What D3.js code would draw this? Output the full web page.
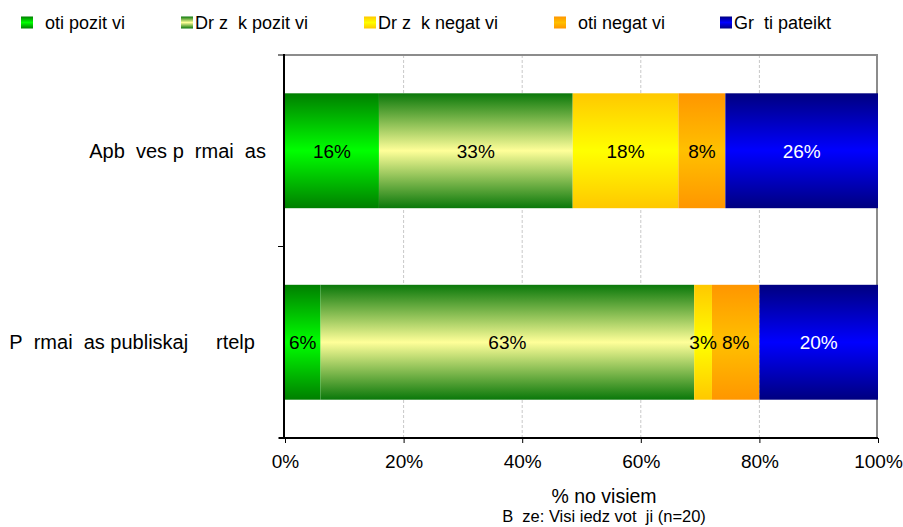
<!DOCTYPE html>
<html>
<head>
<meta charset="utf-8">
<script src="https://cdn.jsdelivr.net/npm/d3@7"></script>
<style>
  body { margin: 0; background: #fff; }
  svg { display: block; font-family: "Liberation Sans", Arial, sans-serif; }
</style>
</head>
<body>
<svg id="chart" width="903" height="527"></svg>
<script>
// ---- data ---- (\u00a0 runs mark glyphs that the original could not render)
const categories = ["Apb\u00a0\u00a0ves p\u00a0\u00a0rmai\u00a0\u00a0as",
                    "P\u00a0\u00a0rmai\u00a0\u00a0as publiskaj\u00a0\u00a0 \u00a0\u00a0rtelp\u00a0\u00a0"];
const seriesNames = ["\u00a0\u00a0oti pozit\u00a0vi", "Dr\u00a0z\u00a0\u00a0k pozit\u00a0vi",
                     "Dr\u00a0z\u00a0\u00a0k negat\u00a0vi", "\u00a0\u00a0oti negat\u00a0vi",
                     "Gr\u00a0\u00a0ti pateikt"];
const seriesKeys = ["s1", "s2", "s3", "s4", "s5"];
const values1 = [16, 33, 18, 8, 26];   // Apbūves pārmaiņas
const values2 = [6, 63, 3, 8, 20];     // Pārmaiņas publiskajā ārtelpā
const tickValues = [0, 0.2, 0.4, 0.6, 0.8, 1.0];
const axisTitle = "% no visiem";
const footnote = "B\u00a0\u00a0ze: Visi iedz\u00a0vot\u00a0\u00a0ji (n=20)";

// gradient colours (edge, middle)
const gradEdge = ["#007f00", "#0a780a", "#ffc800", "#ff9600", "#000080"];
const gradMid  = ["#00ff00", "#ffff99", "#ffff00", "#ffc000", "#0000ff"];
const labelColor = ["#000", "#000", "#000", "#000", "#fff"];

const rows = [values1, values2].map((v, i) => {
  const o = { cat: categories[i] };
  seriesKeys.forEach((k, j) => o[k] = v[j]);
  return o;
});

const svg = d3.select("#chart");
const defs = svg.append("defs");
seriesKeys.forEach((k, i) => {
  const g = defs.append("linearGradient").attr("id", "g" + i)
    .attr("x1", 0).attr("y1", 0).attr("x2", 0).attr("y2", 1);
  g.append("stop").attr("offset", "0%").attr("stop-color", gradEdge[i]);
  g.append("stop").attr("offset", "50%").attr("stop-color", gradMid[i]);
  g.append("stop").attr("offset", "100%").attr("stop-color", gradEdge[i]);
});

const pLeft = 285, pRight = 878, pTop = 55, pBottom = 438;
const x = d3.scaleLinear().domain([0, 1]).range([pLeft, pRight]);
const y = d3.scaleBand().domain(categories).range([pTop, pBottom])
  .paddingInner(0.4).paddingOuter(0.2);

const stack = d3.stack().keys(seriesKeys).offset(d3.stackOffsetExpand);
const stacked = stack(rows);

// gridlines
svg.append("g").selectAll("line").data(tickValues.slice(1, -1)).join("line")
  .attr("x1", d => x(d)).attr("x2", d => x(d))
  .attr("y1", pTop).attr("y2", pBottom)
  .attr("stroke", "#c8c8c8").attr("stroke-dasharray", "3,2");

// plot border (top/right)
svg.append("path")
  .attr("d", `M${pLeft},${pTop}H${x(1) - 1}V${pBottom}`)
  .attr("fill", "none").attr("stroke", "#8c8c8c").attr("stroke-width", 2);

// bars
const layers = svg.append("g").selectAll("g").data(stacked).join("g")
  .attr("fill", (d, i) => `url(#g${i})`);
layers.selectAll("rect").data(d => d).join("rect")
  .attr("x", d => x(d[0])).attr("width", d => x(d[1]) - x(d[0]))
  .attr("y", d => y(d.data.cat)).attr("height", y.bandwidth());

// bar labels
stacked.forEach((layer, i) => {
  svg.append("g").selectAll("text").data(layer).join("text")
    .attr("x", d => (x(d[0]) + x(d[1])) / 2)
    .attr("y", d => y(d.data.cat) + y.bandwidth() / 2 + 7)
    .attr("text-anchor", "middle")
    .attr("font-size", 19)
    .attr("fill", labelColor[i])
    .text(d => d.data[seriesKeys[i]] + "%");
});

// x axis
const xAxis = d3.axisBottom(x).tickValues(tickValues)
  .tickFormat(d3.format(".0%")).tickSize(5).tickPadding(12);
const gx = svg.append("g").attr("transform", `translate(0,${pBottom})`).call(xAxis);
gx.select(".domain").attr("stroke", "#000").attr("stroke-width", 2)
  .attr("d", `M${pLeft - 6},0H${x(1)}`);
gx.selectAll(".tick line").attr("stroke", "#000");
gx.selectAll(".tick text").attr("font-size", 19)
  .attr("font-family", "Liberation Sans, Arial, sans-serif").attr("fill", "#000")
  .attr("dy", "0.68em");

// y axis line and ticks at band boundaries
const bounds = [pTop, (y(categories[0]) + y.bandwidth() + y(categories[1])) / 2, pBottom];
svg.append("line").attr("x1", pLeft - 1).attr("x2", pLeft - 1)
  .attr("y1", pTop - 1).attr("y2", pBottom + 1)
  .attr("stroke", "#000").attr("stroke-width", 2);
svg.append("g").selectAll("line").data(bounds).join("line")
  .attr("x1", pLeft - 7).attr("x2", pLeft).attr("y1", d => d).attr("y2", d => d)
  .attr("stroke", "#000");

// category labels
svg.append("g").selectAll("text").data(categories).join("text")
  .attr("x", 266).attr("y", d => y(d) + y.bandwidth() / 2 + 7)
  .attr("text-anchor", "end").attr("font-size", 20).attr("fill", "#000")
  .text(d => d);

// axis title and footnote
svg.append("text").attr("x", 604).attr("y", 503).attr("text-anchor", "middle")
  .attr("font-size", 19.5).text(axisTitle);
svg.append("text").attr("x", 604).attr("y", 522).attr("text-anchor", "middle")
  .attr("font-size", 16.5).text(footnote);

// legend
const legendX = [21, 181, 364, 554, 720];
const lg = svg.append("g");
seriesNames.forEach((n, i) => {
  lg.append("rect").attr("x", legendX[i]).attr("y", 16.5).attr("width", 12).attr("height", 12)
    .attr("fill", `url(#g${i})`);
  lg.append("text").attr("x", legendX[i] + 14).attr("y", 28.5).attr("font-size", 18)
    .attr("fill", "#000").text(n);
});
</script>
</body>
</html>
